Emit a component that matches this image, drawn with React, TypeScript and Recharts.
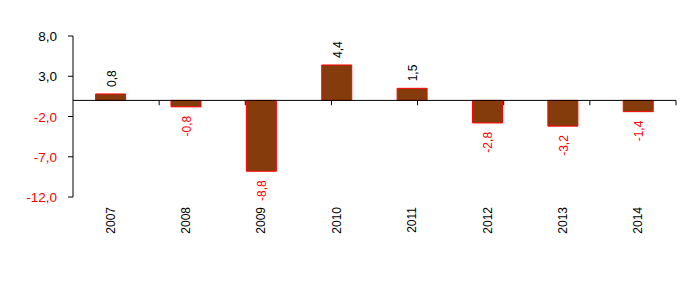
import {
  BarChart,
  Bar,
  XAxis,
  YAxis,
  ReferenceLine,
  LabelList,
} from "recharts";

const years = ["2007", "2008", "2009", "2010", "2011", "2012", "2013", "2014"];
const growth = [0.8, -0.8, -8.8, 4.4, 1.5, -2.8, -3.2, -1.4];
const yTicks = [-12, -7, -2, 3, 8];
const boundaries = [1, 2, 3, 4, 5, 6, 7, 8];

const FONT = "'Liberation Sans', Arial, sans-serif";
const RED = "#FF0000";

const fmt = (v: number) => v.toFixed(1).replace(".", ",");

const data = years.map((year, i) => ({ year, value: growth[i] }));

const YTick = ({ x, y, payload }: any) => (
  <text
    x={x}
    y={y}
    dy={5}
    textAnchor="end"
    fontSize={13.5}
    fontFamily={FONT}
    fill={payload.value < 0 ? RED : "#000"}
  >
    {fmt(payload.value)}
  </text>
);

const XTick = ({ x, y, payload }: any) => (
  <text
    transform={`translate(${x},${y + 10}) rotate(-90)`}
    textAnchor="end"
    dominantBaseline="central"
    fontSize={12}
    fontFamily={FONT}
    fill="#000"
  >
    {payload.value}
  </text>
);

const ValueLabel = (props: any) => {
  const { x, y, width, height, value } = props;
  const top = Math.min(y, y + height);
  const bottom = Math.max(y, y + height);
  const neg = value < 0;
  const cx = x + width / 2 + 1;
  const ay = neg ? bottom + 9 : top - 7;
  return (
    <text
      transform={`translate(${cx},${ay}) rotate(-90)`}
      textAnchor={neg ? "end" : "start"}
      dominantBaseline="central"
      fontSize={12}
      fontFamily={FONT}
      fill={neg ? RED : "#000"}
    >
      {fmt(value)}
    </text>
  );
};

export default function App() {
  return (
    <div style={{ position: "absolute", left: 0, top: 0, background: "#fff" }}>
      <BarChart
        width={700}
        height={300}
        data={data}
        margin={{ top: 36, right: 24, bottom: 43, left: 0 }}
        barCategoryGap="30%"
      >
        <XAxis
          dataKey="year"
          axisLine={false}
          tickLine={false}
          tickSize={0}
          tickMargin={0}
          height={60}
          interval={0}
          tick={<XTick />}
        />
        <XAxis
          xAxisId="grid"
          type="number"
          domain={[0, 8]}
          allowDataOverflow
          hide
        />
        <YAxis
          domain={[-12, 8]}
          ticks={yTicks}
          width={73}
          tickSize={5}
          tickMargin={11}
          axisLine={{ stroke: "#000" }}
          tickLine={{ stroke: "#000" }}
          tick={<YTick />}
        />
        <Bar
          dataKey="value"
          fill="#843C0C"
          stroke={RED}
          strokeWidth={1}
          isAnimationActive={false}
        >
          <LabelList dataKey="value" content={<ValueLabel />} />
        </Bar>
        <ReferenceLine y={0} stroke="#000" strokeWidth={1} />
        {boundaries.map((b) => (
          <ReferenceLine
            key={b}
            xAxisId="grid"
            segment={[
              { x: b, y: 0 },
              { x: b, y: -0.6 },
            ]}
            stroke="#000"
            strokeWidth={1}
          />
        ))}
      </BarChart>
    </div>
  );
}
